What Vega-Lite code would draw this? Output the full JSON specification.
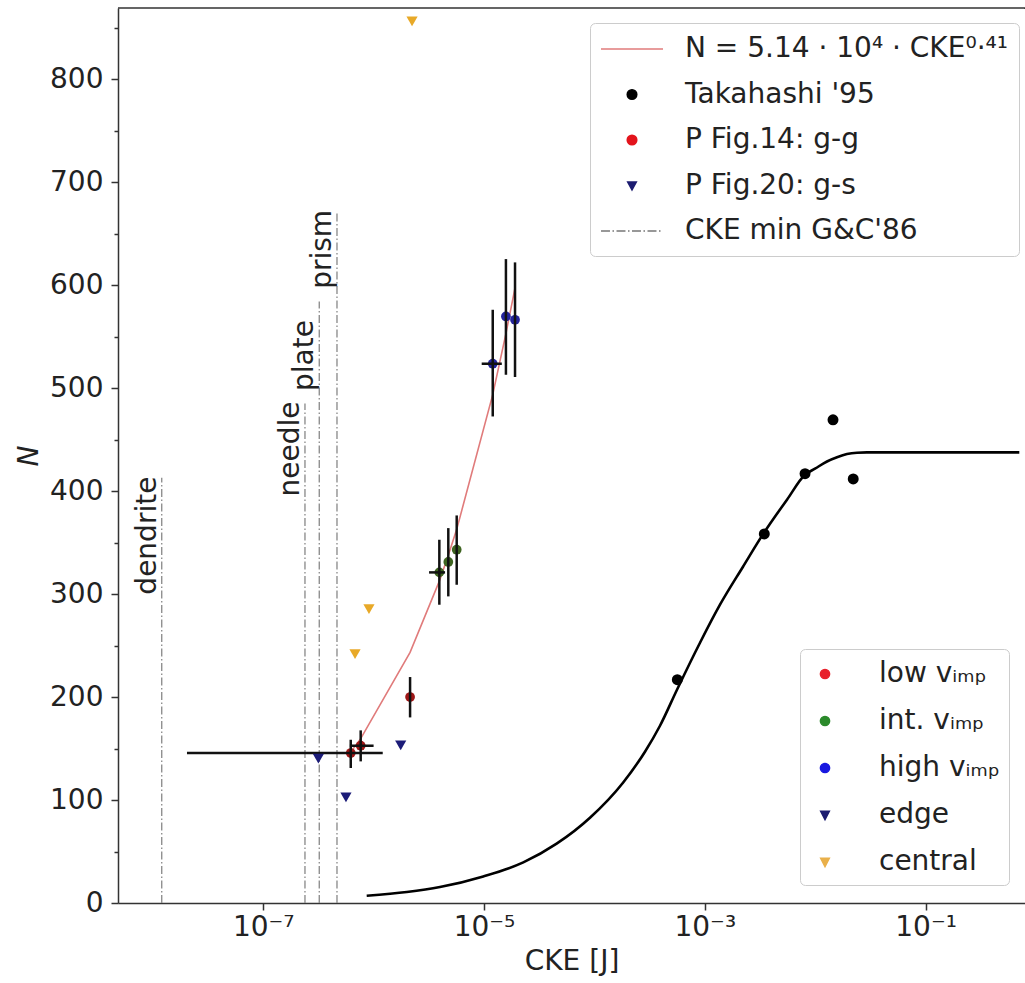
{
  "$schema": "https://vega.github.io/schema/vega-lite/v6.json",
  "width": 907,
  "height": 895,
  "autosize": {"type": "none"},
  "padding": {"left": 118, "top": 8, "right": 0, "bottom": 80},
  "background": "white",
  "config": {
    "font": "DejaVu Sans",
    "view": {"stroke": "#333333", "strokeWidth": 1.5, "strokeDash": [908, 4000]},
    "axis": {
      "labelFont": "DejaVu Sans", "labelFontSize": 28, "labelColor": "#222",
      "titleFont": "DejaVu Sans", "titleFontSize": 28, "titleColor": "#222", "titleFontWeight": "normal",
      "domainColor": "#333", "domainWidth": 1.5, "tickColor": "#333", "tickWidth": 1.5, "grid": false
    }
  },
  "datasets": {
    "vlines": [
      {"name": "dendrite", "x": 1.205e-8, "bottom": 0, "top": 413, "ty": 414},
      {"name": "needle", "x": 2.39e-7, "bottom": 0, "top": 485, "ty": 487},
      {"name": "plate", "x": 3.22e-7, "bottom": 0, "top": 584, "ty": 566},
      {"name": "prism", "x": 4.66e-7, "bottom": 0, "top": 670, "ty": 673}
    ],
    "fit": [
      {"x": 6.21e-7, "y": 146.5}, {"x": 7.64e-7, "y": 159.6}, {"x": 2.14e-6, "y": 243.3},
      {"x": 3.94e-6, "y": 312.5}, {"x": 4.75e-6, "y": 337.7}, {"x": 5.66e-6, "y": 362.8},
      {"x": 1.2e-5, "y": 493.6}, {"x": 1.58e-5, "y": 552.8}, {"x": 1.91e-5, "y": 597.2}
    ],
    "curve": [
      {"x": 8.66e-7, "y": 7.1}, {"x": 2.0e-6, "y": 10.7}, {"x": 3.99e-6, "y": 15.5},
      {"x": 9.85e-6, "y": 25.8}, {"x": 2.27e-5, "y": 39.4}, {"x": 4.55e-5, "y": 57.6},
      {"x": 9.12e-5, "y": 82.8}, {"x": 1.816e-4, "y": 116.8}, {"x": 2.872e-4, "y": 146.9},
      {"x": 3.928e-4, "y": 172.1}, {"x": 5.6e-4, "y": 207.1}, {"x": 9.05e-4, "y": 252.7},
      {"x": 1.373e-3, "y": 289.6}, {"x": 2.218e-3, "y": 326.5}, {"x": 3.437e-3, "y": 359.5},
      {"x": 5.553e-3, "y": 391.6}, {"x": 8.08e-3, "y": 415.8}, {"x": 9.96e-3, "y": 421.7},
      {"x": 1.279e-2, "y": 428.7}, {"x": 1.576e-2, "y": 432.8}, {"x": 1.941e-2, "y": 435.9},
      {"x": 2.391e-2, "y": 437.2}, {"x": 2.945e-2, "y": 437.5}, {"x": 0.706, "y": 437.5}
    ],
    "tak": [
      {"x": 5.64e-4, "y": 216.8}, {"x": 3.46e-3, "y": 358.3}, {"x": 8.09e-3, "y": 416.8},
      {"x": 1.45e-2, "y": 469.2}, {"x": 2.21e-2, "y": 411.7}
    ],
    "pts": [
      {"group": "low", "x": 6.21e-7, "y": 145.6, "ylo": 131.1, "yhi": 158.5, "xlo": 2.04e-8, "xhi": 1.21e-6},
      {"group": "low", "x": 7.64e-7, "y": 152.7, "ylo": 137.5, "yhi": 167.6, "xlo": 6.1e-7, "xhi": 1.0e-6},
      {"group": "low", "x": 2.14e-6, "y": 200, "ylo": 180.2, "yhi": 219.4},
      {"group": "int", "x": 3.94e-6, "y": 321, "ylo": 289.6, "yhi": 352.7, "xlo": 3.18e-6, "xhi": 4.44e-6},
      {"group": "int", "x": 4.75e-6, "y": 331.1, "ylo": 297.7, "yhi": 364},
      {"group": "int", "x": 5.66e-6, "y": 343, "ylo": 309, "yhi": 376.3},
      {"group": "high", "x": 1.2e-5, "y": 523.6, "ylo": 472.4, "yhi": 576, "xlo": 9.53e-6, "xhi": 1.45e-5},
      {"group": "high", "x": 1.58e-5, "y": 569.5, "ylo": 512.9, "yhi": 625.2},
      {"group": "high", "x": 1.91e-5, "y": 566.3, "ylo": 510.7, "yhi": 622}
    ],
    "tri": [
      {"group": "edge", "x": 3.16e-7, "y": 140.1},
      {"group": "edge", "x": 5.62e-7, "y": 102.5},
      {"group": "edge", "x": 1.76e-6, "y": 153},
      {"group": "central", "x": 6.79e-7, "y": 241.7},
      {"group": "central", "x": 9.08e-7, "y": 285.4},
      {"group": "central", "x": 2.23e-6, "y": 856}
    ],
    "leg1": [
      {"L1": "N = 5.14 · 10⁴ · CKE⁰·⁴¹"}, {"L1": "Takahashi '95"}, {"L1": "P Fig.14: g-g"},
      {"L1": "P Fig.20: g-s"}, {"L1": "CKE min G&C'86"}
    ],
    "leg2": [
      {"L2": "low vᵢₘₚ"}, {"L2": "int. vᵢₘₚ"}, {"L2": "high vᵢₘₚ"}, {"L2": "edge"}, {"L2": "central"}
    ]
  },
  "resolve": {
    "scale": {"shape": "independent", "fill": "independent", "stroke": "independent"}
  },
  "layer": [
    {
      "data": {"name": "vlines"},
      "mark": {"type": "rule", "color": "#888888", "strokeWidth": 1.3, "strokeDash": [8, 2.5, 1.5, 2.5]},
      "encoding": {
        "x": {"field": "x", "type": "quantitative",
          "scale": {"type": "log", "domain": [4.84e-9, 0.795], "nice": false},
          "axis": {
            "values": [1e-7, 1e-5, 1e-3, 1e-1],
            "labelExpr": "datum.value < 1e-6 ? '10⁻⁷' : datum.value < 1e-4 ? '10⁻⁵' : datum.value < 1e-2 ? '10⁻³' : '10⁻¹'",
            "tickSize": 7, "labelPadding": 3, "labelFlush": false, "labelOverlap": false,
            "title": "CKE [J]", "titlePadding": 6
          }},
        "y": {"field": "bottom", "type": "quantitative", "scale": {"domain": [0, 869], "nice": false, "zero": false},
          "axis": {
            "values": [0, 50, 100, 150, 200, 250, 300, 350, 400, 450, 500, 550, 600, 650, 700, 750, 800, 850],
            "labelExpr": "datum.value % 100 === 0 ? datum.label : ''",
            "tickSize": {"condition": {"test": "datum.value % 100 === 0", "value": 7}, "value": 4},
            "labelPadding": 8, "labelOverlap": false,
            "title": "N", "titleFontStyle": "italic", "titlePadding": 6
          }},
        "y2": {"field": "top"}
      }
    },
    {
      "data": {"name": "vlines"},
      "mark": {"type": "text", "angle": 270, "align": "right", "baseline": "bottom", "fontSize": 28, "font": "DejaVu Sans", "color": "#222"},
      "encoding": {
        "x": {"field": "x", "type": "quantitative", "scale": {"type": "log", "domain": [4.84e-9, 0.795], "nice": false}},
        "y": {"field": "ty", "type": "quantitative", "scale": {"domain": [0, 869], "nice": false, "zero": false}},
        "text": {"field": "name"}
      }
    },
    {
      "data": {"name": "fit"},
      "mark": {"type": "line", "color": "#e07b7b", "strokeWidth": 1.6},
      "encoding": {
        "x": {"field": "x", "type": "quantitative", "scale": {"type": "log", "domain": [4.84e-9, 0.795], "nice": false}},
        "y": {"field": "y", "type": "quantitative", "scale": {"domain": [0, 869], "nice": false, "zero": false}}
      }
    },
    {
      "data": {"name": "curve"},
      "mark": {"type": "line", "color": "#000000", "strokeWidth": 2.6, "interpolate": "monotone"},
      "encoding": {
        "x": {"field": "x", "type": "quantitative", "scale": {"type": "log", "domain": [4.84e-9, 0.795], "nice": false}},
        "y": {"field": "y", "type": "quantitative", "scale": {"domain": [0, 869], "nice": false, "zero": false}}
      }
    },
    {
      "data": {"name": "tak"},
      "mark": {"type": "circle", "color": "#000000", "size": 120, "opacity": 1},
      "encoding": {
        "x": {"field": "x", "type": "quantitative", "scale": {"type": "log", "domain": [4.84e-9, 0.795], "nice": false}},
        "y": {"field": "y", "type": "quantitative", "scale": {"domain": [0, 869], "nice": false, "zero": false}}
      }
    },
    {
      "data": {"name": "pts"},
      "mark": {"type": "circle", "size": 95, "opacity": 1},
      "encoding": {
        "x": {"field": "x", "type": "quantitative", "scale": {"type": "log", "domain": [4.84e-9, 0.795], "nice": false}},
        "y": {"field": "y", "type": "quantitative", "scale": {"domain": [0, 869], "nice": false, "zero": false}},
        "color": {"field": "group", "type": "nominal",
          "scale": {"domain": ["low", "int", "high", "edge", "central"], "range": ["#9e1616", "#3e6420", "#23239c", "#1c1c78", "#e8a928"]},
          "legend": null}
      }
    },
    {
      "data": {"name": "pts"},
      "transform": [{"filter": "datum.ylo != null"}],
      "mark": {"type": "rule", "color": "#111111", "strokeWidth": 2.5},
      "encoding": {
        "x": {"field": "x", "type": "quantitative", "scale": {"type": "log", "domain": [4.84e-9, 0.795], "nice": false}},
        "y": {"field": "ylo", "type": "quantitative", "scale": {"domain": [0, 869], "nice": false, "zero": false}},
        "y2": {"field": "yhi"}
      }
    },
    {
      "data": {"name": "pts"},
      "transform": [{"filter": "datum.xlo != null"}],
      "mark": {"type": "rule", "color": "#111111", "strokeWidth": 2.5},
      "encoding": {
        "x": {"field": "xlo", "type": "quantitative", "scale": {"type": "log", "domain": [4.84e-9, 0.795], "nice": false}},
        "x2": {"field": "xhi"},
        "y": {"field": "y", "type": "quantitative", "scale": {"domain": [0, 869], "nice": false, "zero": false}}
      }
    },
    {
      "data": {"name": "tri"},
      "mark": {"type": "point", "shape": "triangle-down", "filled": true, "size": 125, "opacity": 1},
      "encoding": {
        "x": {"field": "x", "type": "quantitative", "scale": {"type": "log", "domain": [4.84e-9, 0.795], "nice": false}},
        "y": {"field": "y", "type": "quantitative", "scale": {"domain": [0, 869], "nice": false, "zero": false}},
        "color": {"field": "group", "type": "nominal",
          "scale": {"domain": ["low", "int", "high", "edge", "central"], "range": ["#9e1616", "#3e6420", "#23239c", "#1c1c78", "#e8a928"]},
          "legend": null}
      }
    },
    {
      "data": {"name": "leg1"},
      "transform": [{"filter": "false"}],
      "mark": {"type": "point", "filled": true, "opacity": 1, "size": 784},
      "encoding": {
        "x": {"field": "x", "type": "quantitative", "scale": {"type": "log", "domain": [4.84e-9, 0.795], "nice": false}},
        "y": {"field": "y", "type": "quantitative", "scale": {"domain": [0, 869], "nice": false, "zero": false}},
        "shape": {"field": "L1", "type": "nominal",
          "scale": {"domain": ["N = 5.14 · 10⁴ · CKE⁰·⁴¹", "Takahashi '95", "P Fig.14: g-g", "P Fig.20: g-s", "CKE min G&C'86"],
            "range": [
              "M-2.214,0L2.214,0",
              "M-0.343,0A0.343,0.343,0,1,1,0.343,0A0.343,0.343,0,1,1,-0.343,0Z",
              "M-0.343,0A0.343,0.343,0,1,1,0.343,0A0.343,0.343,0,1,1,-0.343,0Z",
              "M-0.307,-0.25L0.307,-0.25L0,0.321Z",
              "M-2.214,0L-1.572,0M-1.395,0L-1.284,0M-1.107,0L-0.465,0M-0.288,0L-0.177,0M0,0L0.642,0M0.819,0L0.93,0M1.107,0L1.749,0M1.926,0L2.037,0"
            ]},
          "legend": {"title": null, "orient": "none", "legendX": 472, "legendY": 15, "symbolSize": 784, "symbolStrokeWidth": 1.5, "symbolOffset": 16,
            "labelFont": "DejaVu Sans", "labelFontSize": 28, "labelColor": "#222", "labelOffset": 38, "labelLimit": 600,
            "rowPadding": 16.5, "padding": 11, "strokeColor": "#cccccc", "fillColor": "#ffffff", "cornerRadius": 5}},
        "fill": {"field": "L1", "type": "nominal",
          "scale": {"domain": ["N = 5.14 · 10⁴ · CKE⁰·⁴¹", "Takahashi '95", "P Fig.14: g-g", "P Fig.20: g-s", "CKE min G&C'86"],
            "range": ["transparent", "#000000", "#e3141c", "#1c1c70", "transparent"]},
          "legend": {"title": null, "orient": "none", "legendX": 472, "legendY": 15, "symbolSize": 784, "symbolStrokeWidth": 1.5, "symbolOffset": 16,
            "labelFont": "DejaVu Sans", "labelFontSize": 28, "labelColor": "#222", "labelOffset": 38, "labelLimit": 600,
            "rowPadding": 16.5, "padding": 11, "strokeColor": "#cccccc", "fillColor": "#ffffff", "cornerRadius": 5}},
        "stroke": {"field": "L1", "type": "nominal",
          "scale": {"domain": ["N = 5.14 · 10⁴ · CKE⁰·⁴¹", "Takahashi '95", "P Fig.14: g-g", "P Fig.20: g-s", "CKE min G&C'86"],
            "range": ["#e07b7b", "#000000", "#e3141c", "#1c1c70", "#777777"]},
          "legend": {"title": null, "orient": "none", "legendX": 472, "legendY": 15, "symbolSize": 784, "symbolStrokeWidth": 1.5, "symbolOffset": 16,
            "labelFont": "DejaVu Sans", "labelFontSize": 28, "labelColor": "#222", "labelOffset": 38, "labelLimit": 600,
            "rowPadding": 16.5, "padding": 11, "strokeColor": "#cccccc", "fillColor": "#ffffff", "cornerRadius": 5}}
      }
    },
    {
      "data": {"name": "leg2"},
      "transform": [{"filter": "false"}],
      "mark": {"type": "point", "filled": true, "opacity": 1, "size": 900},
      "encoding": {
        "x": {"field": "x", "type": "quantitative", "scale": {"type": "log", "domain": [4.84e-9, 0.795], "nice": false}},
        "y": {"field": "y", "type": "quantitative", "scale": {"domain": [0, 869], "nice": false, "zero": false}},
        "shape": {"field": "L2", "type": "nominal",
          "scale": {"domain": ["low vᵢₘₚ", "int. vᵢₘₚ", "high vᵢₘₚ", "edge", "central"],
            "range": [
              "M-0.307,0A0.307,0.307,0,1,1,0.307,0A0.307,0.307,0,1,1,-0.307,0Z",
              "M-0.307,0A0.307,0.307,0,1,1,0.307,0A0.307,0.307,0,1,1,-0.307,0Z",
              "M-0.307,0A0.307,0.307,0,1,1,0.307,0A0.307,0.307,0,1,1,-0.307,0Z",
              "M-0.287,-0.247L0.287,-0.247L0,0.313Z",
              "M-0.287,-0.247L0.287,-0.247L0,0.313Z"
            ]},
          "legend": {"title": null, "orient": "none", "legendX": 682, "legendY": 641, "symbolSize": 900, "symbolStrokeWidth": 1.5,
            "labelFont": "DejaVu Sans", "labelFontSize": 28, "labelColor": "#222", "labelOffset": 38, "labelLimit": 600,
            "rowPadding": 17, "padding": 9, "strokeColor": "#cccccc", "fillColor": "#ffffff", "cornerRadius": 5}},
        "fill": {"field": "L2", "type": "nominal",
          "scale": {"domain": ["low vᵢₘₚ", "int. vᵢₘₚ", "high vᵢₘₚ", "edge", "central"],
            "range": ["#e8212b", "#2b8a2b", "#1818e0", "#1c1c70", "#e9b04a"]},
          "legend": {"title": null, "orient": "none", "legendX": 682, "legendY": 641, "symbolSize": 900, "symbolStrokeWidth": 1.5,
            "labelFont": "DejaVu Sans", "labelFontSize": 28, "labelColor": "#222", "labelOffset": 38, "labelLimit": 600,
            "rowPadding": 17, "padding": 9, "strokeColor": "#cccccc", "fillColor": "#ffffff", "cornerRadius": 5}},
        "stroke": {"field": "L2", "type": "nominal",
          "scale": {"domain": ["low vᵢₘₚ", "int. vᵢₘₚ", "high vᵢₘₚ", "edge", "central"],
            "range": ["#e8212b", "#2b8a2b", "#1818e0", "#1c1c70", "#e9b04a"]},
          "legend": {"title": null, "orient": "none", "legendX": 682, "legendY": 641, "symbolSize": 900, "symbolStrokeWidth": 1.5,
            "labelFont": "DejaVu Sans", "labelFontSize": 28, "labelColor": "#222", "labelOffset": 38, "labelLimit": 600,
            "rowPadding": 17, "padding": 9, "strokeColor": "#cccccc", "fillColor": "#ffffff", "cornerRadius": 5}}
      }
    }
  ]
}
